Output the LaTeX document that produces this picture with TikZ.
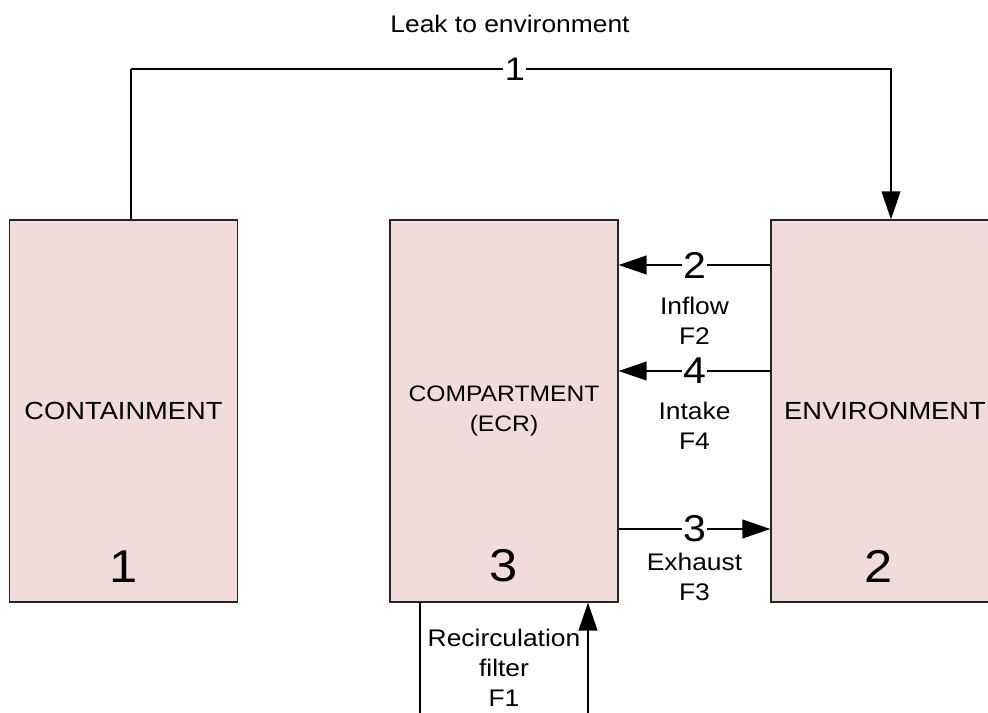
\documentclass[tikz,border=0pt]{standalone}
\usepackage{fontspec}
\setmainfont{Liberation Sans}[FakeStretch=1.1]
\usepackage{xcolor}
\usetikzlibrary{arrows.meta, positioning}
\definecolor{zonefill}{HTML}{F2DCDB}

\begin{document}
\begin{tikzpicture}[x=0.75pt, y=-0.75pt,
		zone/.style={draw=black!85, line width=0.9pt, fill=zonefill, minimum width=171pt,
			minimum height=286.5pt, inner sep=0pt, align=center, font=\fontsize{18.6}{22.5}\selectfont},
		zonenum/.style={inner sep=0pt, font=\fontsize{34.5}{34.5}\selectfont},
		pipe/.style={line width=1.5pt},
		flow/.style={pipe, -{Triangle[length=21pt, width=14pt]}},
		flownum/.style={fill=white, inner sep=1pt, font=\fontsize{28}{28}\selectfont},
		flowlbl/.style={inner sep=0pt, align=center, font=\fontsize{18}{22.5}\selectfont}]
	\useasboundingbox (0,0) rectangle (988,713);
	% volumes
	\node[zone] (cont) at (123.5,411) {CONTAINMENT};
	\node[zone, font=\fontsize{16.8}{22.5}\selectfont] (comp) at (504,411) {COMPARTMENT\\(ECR)};
	\node[zone] (env) at (885,411) {ENVIRONMENT};
	\node[zonenum, above=15pt of cont.south] (n1) {1};
	\node[zonenum, above=15pt of comp.south] (n3) {3};
	\node[zonenum, above=15pt of env.south, xshift=-5pt] (n2) {2};
	% leak path
	\coordinate (leakL) at (131,69);
	\coordinate (leakR) at (891,69);
	\draw[pipe] (cont.north -| leakL) -- (leakL);
	\draw[flow] (leakL) -- node[pos=0.505, flownum, font=\fontsize{24.5}{24.5}\selectfont] (f1) {1} (leakR)
		-- (env.north -| leakR);
	\node[flowlbl] (leaktxt) at (510,24) {Leak to environment};
	% flows between compartment and environment
	\coordinate (y2) at (0,265);
	\coordinate (y4) at (0,371);
	\coordinate (y3) at (0,529);
	\draw[flow] (env.west |- y2) -- node[flownum] (f2) {2} (comp.east |- y2);
	\draw[flow] (env.west |- y4) -- node[flownum] (f4) {4} (comp.east |- y4);
	\draw[flow] (comp.east |- y3) -- node[flownum] (f3) {3} (env.west |- y3);
	\node[flowlbl, below=12pt of f2] {Inflow\\F2};
	\node[flowlbl, below=12pt of f4] {Intake\\F4};
	\node[flowlbl, below=6pt of f3] {Exhaust\\F3};
	% recirculation
	\coordinate (recL) at (420,720);
	\coordinate (recR) at (588,720);
	\draw[pipe] (comp.south -| recL) -- (recL);
	\draw[flow] (recR) -- (comp.south -| recR);
	\node[flowlbl, below=20pt of comp.south] (rec) {Recirculation\\filter\\F1};
\end{tikzpicture}
\end{document}
